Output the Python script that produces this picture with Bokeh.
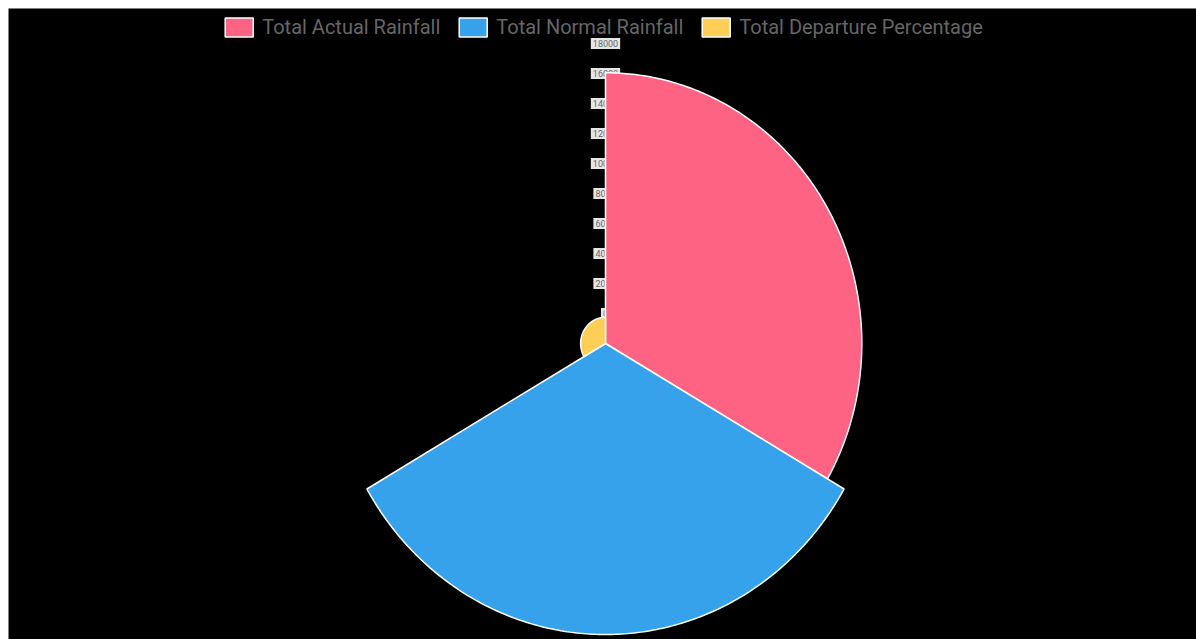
import numpy as np
from bokeh.plotting import figure
from bokeh.models import Range1d, Legend, LegendItem
from bokeh.core.properties import value
from bokeh.embed import file_html
from bokeh.resources import INLINE

categories = ["Total Actual Rainfall", "Total Normal Rainfall", "Total Departure Percentage"]
values = [16050, 17400, -250]
colors = ["#FF6384", "#36A2EB", "#FFCE56"]
tick_values = [0, 2000, 4000, 6000, 8000, 10000, 12000, 14000, 16000, 18000]
scale_min = -2000

p = figure(width=1196, height=639, output_backend="svg", toolbar_location=None,
           x_range=Range1d(-42042, 41620), y_range=Range1d(-19733, 22333),
           x_axis_location=None, y_axis_location=None,
           min_border_left=8, min_border_top=8, min_border_right=0, min_border_bottom=0,
           background_fill_color="black", border_fill_color="white")
p.grid.visible = False
p.outline_line_color = None

# radial tick labels (drawn below the segments)
p.text(x=[0] * len(tick_values), y=[t - scale_min for t in tick_values],
       text=[str(t) for t in tick_values], text_align="center", text_baseline="middle",
       text_font=value("Roboto"), text_font_size="9px", text_color="#666666",
       background_fill_color="white", background_fill_alpha=0.9, padding=2)

n = len(values)
span = 2 * np.pi / n
items = []
for i, (cat, v, c) in enumerate(zip(categories, values, colors)):
    th = np.linspace(i * span, (i + 1) * span, 181)
    r = v - scale_min
    xs = np.concatenate([[0], r * np.sin(th)])
    ys = np.concatenate([[0], r * np.cos(th)])
    rend = p.patch(xs, ys, fill_color=c, line_color="#ffffff", line_width=1.5)
    items.append(LegendItem(label=cat, renderers=[rend]))

legend = Legend(items=items, orientation="horizontal", location="top_center",
                label_text_color="#666666", label_text_font="Roboto",
                label_text_font_size="20px", glyph_width=35, glyph_height=24,
                background_fill_alpha=0, border_line_color=None,
                spacing=15, padding=0, margin=7, label_standoff=6)
p.add_layout(legend)

open("out.html", "w").write(file_html(p, INLINE))
